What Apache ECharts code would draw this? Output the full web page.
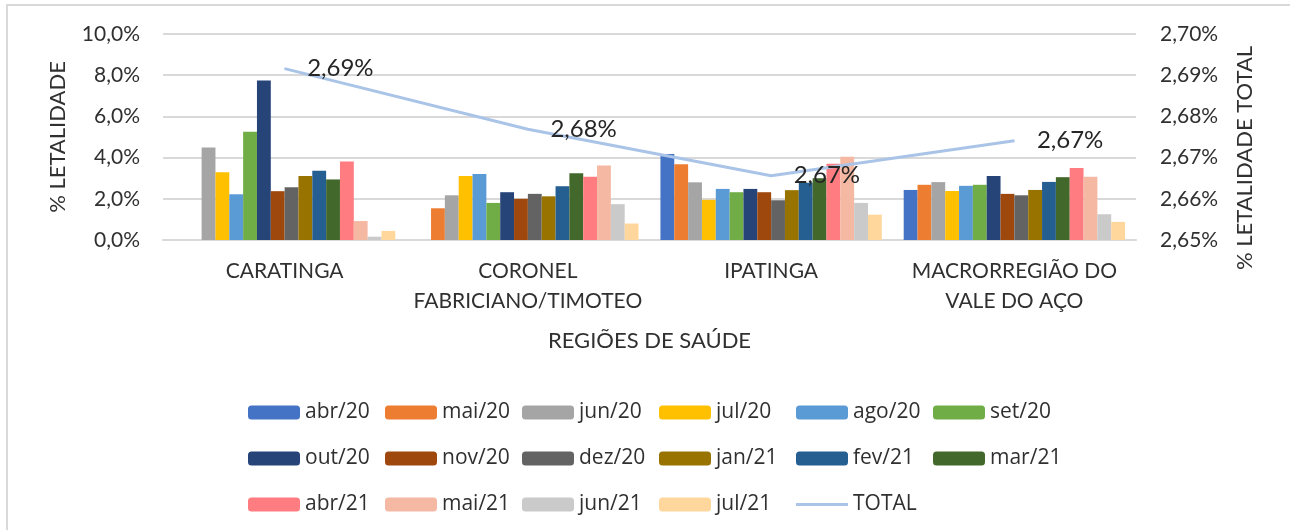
<!DOCTYPE html>
<html>
<head>
<meta charset="utf-8">
<script src="https://cdn.jsdelivr.net/npm/echarts@6/dist/echarts.min.js"></script>
<style>html,body{margin:0;padding:0;background:#fff}#c{width:1290px;height:530px}</style>
</head>
<body>
<div id="c"></div>
<script>
var categories = ['CARATINGA', 'CORONEL\nFABRICIANO/TIMOTEO', 'IPATINGA', 'MACRORREGIÃO DO\nVALE DO AÇO'];
var months = ['abr/20','mai/20','jun/20','jul/20','ago/20','set/20','out/20','nov/20','dez/20','jan/21','fev/21','mar/21','abr/21','mai/21','jun/21','jul/21'];
// values per month: [CARATINGA, CORONEL FABRICIANO/TIMOTEO, IPATINGA, MACRORREGIÃO]
var abr20 = [0, 0, 4.17, 2.43];
var mai20 = [0, 1.54, 3.68, 2.68];
var jun20 = [4.49, 2.17, 2.80, 2.81];
var jul20 = [3.29, 3.11, 1.95, 2.38];
var ago20 = [2.22, 3.20, 2.48, 2.63];
var set20 = [5.26, 1.80, 2.32, 2.68];
var out20 = [7.74, 2.32, 2.48, 3.11];
var nov20 = [2.37, 2.00, 2.32, 2.24];
var dez20 = [2.56, 2.24, 1.93, 2.17];
var jan21 = [3.11, 2.12, 2.42, 2.43];
var fev21 = [3.36, 2.61, 2.78, 2.82];
var mar21 = [2.94, 3.24, 3.00, 3.05];
var abr21 = [3.81, 3.07, 3.70, 3.49];
var mai21 = [0.92, 3.62, 4.04, 3.07];
var jun21 = [0.16, 1.74, 1.80, 1.25];
var jul21 = [0.44, 0.80, 1.23, 0.88];
var total = [2.6916, 2.6769, 2.6656, 2.6741];
var leftTicks = [0, 10, 2];
var rightTicks = [2.65, 2.70, 0.01];

var monthValues = [abr20, mai20, jun20, jul20, ago20, set20, out20, nov20, dez20, jan21, fev21, mar21, abr21, mai21, jun21, jul21];
var colors = ['#4472C4','#ED7D31','#A5A5A5','#FFC000','#5B9BD5','#70AD47','#264478','#9E480E','#636363','#997300','#255E91','#43682B','#FF7C80','#F4B8A3','#CACACA','#FFD79C'];
var lineColor = '#AAC4E8';
var FONT = 'Lato';
var LFONT = 'Open Sans';
var txt = '#303030';

var series = months.map(function (m, i) {
  return {
    name: m, type: 'bar', data: monthValues[i], yAxisIndex: 0,
    barGap: '0%', barCategoryGap: '9%',
    itemStyle: { color: colors[i] }
  };
});
series.push({
  name: 'TOTAL', type: 'line', yAxisIndex: 1, data: total,
  symbol: 'circle', symbolSize: 1, showSymbol: true,
  lineStyle: { color: lineColor, width: 3 },
  itemStyle: { color: lineColor },
  label: {
    show: true, position: 'right', distance: 22,
    fontFamily: FONT, fontSize: 24, color: '#262626',
    formatter: function (p) { return p.value.toFixed(2).replace('.', ',') + '%'; }
  },
  z: 5
});

var cols = [
  ['abr/20','out/20','abr/21'],
  ['mai/20','nov/20','mai/21'],
  ['jun/20','dez/20','jun/21'],
  ['jul/20','jan/21','jul/21'],
  ['ago/20','fev/21',{ name: 'TOTAL', icon: 'path://M0,0L52,0L52,3L0,3Z' }],
  ['set/20','mar/21']
];
var legends = cols.map(function (c, i) {
  return {
    orient: 'vertical', left: 248 + i * 137, top: 402, padding: 0,
    itemWidth: 52, itemHeight: 14, itemGap: 25,
    data: c, selectedMode: false,
    textStyle: { fontFamily: LFONT, fontSize: 21, color: txt, lineHeight: 20 }
  };
});

var chart = echarts.init(document.getElementById('c'), null, { renderer: 'canvas' });
chart.setOption({
  animation: false,
  backgroundColor: '#fff',
  color: colors.concat([lineColor]),
  grid: { left: 163, right: 154, top: 34, bottom: 290, containLabel: false },
  legend: legends,
  graphic: [{
    type: 'rect', shape: { x: 7, y: 5, width: 1300, height: 540 },
    style: { fill: 'none', stroke: '#D9D9D9', lineWidth: 2 }, silent: true
  }],
  xAxis: {
    type: 'category', data: categories,
    name: 'REGIÕES DE SAÚDE', nameLocation: 'middle', nameGap: 90,
    nameTextStyle: { fontFamily: FONT, fontSize: 22, color: txt },
    axisLine: { lineStyle: { color: '#D9D9D9', width: 2 } },
    axisTick: { show: false },
    axisLabel: { fontFamily: FONT, fontSize: 21, color: txt, lineHeight: 30, margin: 16, interval: 0 }
  },
  yAxis: [{
    type: 'value', min: leftTicks[0], max: leftTicks[1], interval: leftTicks[2],
    name: '% LETALIDADE', nameLocation: 'middle', nameGap: 94, nameRotate: 90,
    nameTextStyle: { fontFamily: FONT, fontSize: 22, color: txt },
    axisLine: { show: false }, axisTick: { show: false },
    splitLine: { lineStyle: { color: '#D9D9D9', width: 2 } },
    axisLabel: { fontFamily: FONT, fontSize: 21, color: txt, margin: 23,
      formatter: function (v) { return v.toFixed(1).replace('.', ',') + '%'; } }
  }, {
    type: 'value', min: rightTicks[0], max: rightTicks[1], interval: rightTicks[2],
    name: '% LETALIDADE TOTAL', nameLocation: 'middle', nameGap: 98, nameRotate: 90,
    nameTextStyle: { fontFamily: FONT, fontSize: 22, color: txt, padding: [0, 42, 0, 0] },
    axisLine: { show: false }, axisTick: { show: false },
    splitLine: { show: false },
    axisLabel: { fontFamily: FONT, fontSize: 21, color: txt, margin: 24,
      formatter: function (v) { return v.toFixed(2).replace('.', ',') + '%'; } }
  }],
  series: series
});
</script>
</body>
</html>
